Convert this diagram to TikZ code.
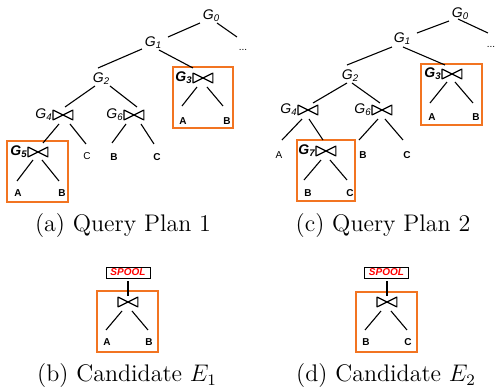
\documentclass[tikz,border=0pt]{standalone}
\usepackage{fontspec}
\newfontfamily\arialf{Liberation Sans}
\usetikzlibrary{calc}
\definecolor{oboxc}{RGB}{242,116,33}
\newcommand\gl[1]{G\kern0.1pt\raisebox{-1.1pt}{\fontsize{4.8}{5}\selectfont #1}}
\newcommand\btdraw[1]{\draw[btline] (#1.north west) -- (#1.south west) -- (#1.north east) -- (#1.south east) -- cycle;}
\begin{document}
\begin{tikzpicture}[x=0.5pt,y=-0.5pt,
  lbl/.style={inner sep=0pt, font=\arialf\fontsize{7}{8}\selectfont\itshape},
  lblb/.style={inner sep=0pt, font=\arialf\fontsize{7}{8}\selectfont\bfseries\itshape},
  leaf/.style={inner sep=0pt, font=\arialf\fontsize{5}{6}\selectfont\bfseries},
  leafl/.style={inner sep=0pt, font=\arialf\fontsize{5}{6}\selectfont},
  bt/.style={inner sep=0pt, minimum width=9.5pt, minimum height=4.5pt},
  btline/.style={line width=0.6pt, line join=round},
  conn/.style={line width=0.55pt},
  obx/.style={draw=oboxc, line width=1pt, inner sep=0pt},
  spoolbox/.style={draw, line width=0.4pt, fill=white, minimum width=22pt, minimum height=5.5pt, inner sep=0pt, font=\arialf\fontsize{5}{6}\selectfont\bfseries\itshape, text=red},
  captxt/.style={inner sep=0pt, anchor=base, font=\fontsize{12}{14}\selectfont}
]
\useasboundingbox (0,0) rectangle (495,391);

% ---------------- Tree 1 ----------------
\node[obx, minimum width=30pt, minimum height=30.5pt] (box3a) at (203,97.5) {};
\node[obx, minimum width=30.5pt, minimum height=30.5pt] (box5a) at (37.5,171.5) {};

\node[lbl] (g0a) at (211,16) {\gl{0}};
\node[leafl] (dotsa) at (243,50) {...};
\node[lbl] (g1a) at (153,43) {\gl{1}};
\node[lbl] (g2a) at (101,79) {\gl{2}};
\node[bt] (b3a) at (203,78) {}; \btdraw{b3a}
\node[lblb, anchor=east] (g3a) at ($(b3a.west)+(-1,0)$) {\gl{3}};
\node[leaf] (l3aA) at (183,121) {A};
\node[leaf] (l3aB) at (227,121) {B};
\node[bt] (b4a) at (63,115) {}; \btdraw{b4a}
\node[lbl, anchor=east] (g4a) at ($(b4a.west)+(-1,0)$) {\gl{4}};
\node[bt] (b6a) at (134,115) {}; \btdraw{b6a}
\node[lbl, anchor=east] (g6a) at ($(b6a.west)+(-1,0)$) {\gl{6}};
\node[bt] (b5a) at (38,152) {}; \btdraw{b5a}
\node[lblb, anchor=east] (g5a) at ($(b5a.west)+(-1,0)$) {\gl{5}};
\node[leaf] (l5aA) at (18,193) {A};
\node[leaf] (l5aB) at (62,193) {B};
\node[leafl] (l4aC) at (87,156) {C};
\node[leaf] (l6aB) at (114,157) {B};
\node[leaf] (l6aC) at (157,157) {C};

\draw[conn] ($(g0a)+(-11,7)$) -- ($(g1a)+(15,-6)$);
\draw[conn] ($(g0a)+(6,7)$) -- ($(dotsa)+(-6,-13)$);
\draw[conn] ($(g1a)+(-11,6)$) -- ($(g2a)+(-3,-11)$);
\draw[conn] ($(g1a)+(6,7)$) -- ($(b3a)+(-10,-10)$);
\draw[conn] ($(b3a)+(-6,9)$) -- ($(l3aA)+(-1,-15)$);
\draw[conn] ($(b3a)+(4,9)$) -- ($(l3aB)+(-4,-15)$);
\draw[conn] ($(g2a)+(-6,7)$) -- ($(b4a)+(2,-8)$);
\draw[conn] ($(g2a)+(9,7)$) -- ($(b6a)+(3,-8)$);
\draw[conn] ($(b4a)+(-4,9)$) -- ($(b5a)+(5,-9)$);
\draw[conn] ($(b4a)+(7,9)$) -- ($(l4aC)+(-1,-12)$);
\draw[conn] ($(b6a)+(-8,9)$) -- ($(l6aB)+(-2,-14)$);
\draw[conn] ($(b6a)+(7,9)$) -- ($(l6aC)+(-3,-13)$);
\draw[conn] ($(b5a)+(-5,8)$) -- ($(l5aA)+(-1,-12)$);
\draw[conn] ($(b5a)+(4,8)$) -- ($(l5aB)+(-3,-12)$);

% ---------------- Tree 2 ----------------
\node[obx, minimum width=30.5pt, minimum height=30.5pt] (box3b) at (451.5,94.5) {};
\node[obx, minimum width=29pt, minimum height=30.5pt] (box7b) at (326,170.5) {};

\node[lbl] (g0b) at (460,14) {\gl{0}};
\node[leafl] (dotsb) at (491,47) {...};
\node[lbl] (g1b) at (402,39) {\gl{1}};
\node[lbl] (g2b) at (350,76) {\gl{2}};
\node[bt] (b3b) at (452,74) {}; \btdraw{b3b}
\node[lblb, anchor=east] (g3b) at ($(b3b.west)+(-1,0)$) {\gl{3}};
\node[leaf] (l3bA) at (432,117) {A};
\node[leaf] (l3bB) at (476,117) {B};
\node[bt] (b4b) at (308,110) {}; \btdraw{b4b}
\node[lbl, anchor=east] (g4b) at ($(b4b.west)+(-1,0)$) {\gl{4}};
\node[bt] (b6b) at (382,110) {}; \btdraw{b6b}
\node[lbl, anchor=east] (g6b) at ($(b6b.west)+(-1,0)$) {\gl{6}};
\node[leafl] (l4bA) at (279,155) {A};
\node[bt] (b7b) at (326,151) {}; \btdraw{b7b}
\node[lblb, anchor=east] (g7b) at ($(b7b.west)+(-1,0)$) {\gl{7}};
\node[leaf] (l7bB) at (308,193) {B};
\node[leaf] (l7bC) at (350,193) {C};
\node[leaf] (l6bB) at (363,155) {B};
\node[leaf] (l6bC) at (407,155) {C};

\draw[conn] ($(g0b)+(-11,7)$) -- ($(g1b)+(15,-6)$);
\draw[conn] ($(g0b)+(-2,5)$) -- ($(dotsb)+(-3,-14)$);
\draw[conn] ($(g1b)+(-10,8)$) -- ($(g2b)+(-3,-11)$);
\draw[conn] ($(g1b)+(1,8)$) -- ($(b3b)+(-7,-9)$);
\draw[conn] ($(b3b)+(-5,8)$) -- ($(l3bA)+(-2,-14)$);
\draw[conn] ($(b3b)+(3,8)$) -- ($(l3bB)+(-3,-14)$);
\draw[conn] ($(g2b)+(-3,7)$) -- ($(b4b)+(5,-7)$);
\draw[conn] ($(g2b)+(2,7)$) -- ($(b6b)+(-2,-7)$);
\draw[conn] ($(b4b)+(-6,9)$) -- ($(l4bA)+(3,-15)$);
\draw[conn] ($(b4b)+(1,9)$) -- ($(b7b)+(-3,-11)$);
\draw[conn] ($(b6b)+(-4,9)$) -- ($(l6bB)+(-4,-15)$);
\draw[conn] ($(b6b)+(3,9)$) -- ($(l6bC)+(-4,-15)$);
\draw[conn] ($(b7b)+(-5,9)$) -- ($(l7bB)+(-4,-13)$);
\draw[conn] ($(b7b)+(4,9)$) -- ($(l7bC)+(-3,-13)$);

% ---------------- Candidate E1 ----------------
\node[obx, minimum width=30.5pt, minimum height=30.5pt] (boxe1) at (127.5,321.5) {};
\node[spoolbox] (sp1) at (128,272.5) {SPOOL};
\node[bt] (bte1) at (128,302) {}; \btdraw{bte1}
\node[leaf] (le1A) at (107,342) {A};
\node[leaf] (le1B) at (149,342) {B};
\draw[conn] ($(sp1.south)+(0,3)$) -- ($(bte1)+(0,-6)$);
\draw[conn] ($(bte1)+(-6,9)$) -- ($(le1A)+(-1,-12)$);
\draw[conn] ($(bte1)+(4,9)$) -- ($(le1B)+(-1,-12)$);

% ---------------- Candidate E2 ----------------
\node[obx, minimum width=30.5pt, minimum height=30pt] (boxe2) at (386.5,322) {};
\node[spoolbox] (sp2) at (386.5,272.5) {SPOOL};
\node[bt] (bte2) at (387,302) {}; \btdraw{bte2}
\node[leaf] (le2B) at (366,342) {B};
\node[leaf] (le2C) at (408,342) {C};
\draw[conn] ($(sp2.south)+(0.5,3)$) -- ($(bte2)+(0,-6)$);
\draw[conn] ($(bte2)+(-6,9)$) -- ($(le2B)+(-1,-12)$);
\draw[conn] ($(bte2)+(4,9)$) -- ($(le2C)+(-1,-12)$);

% ---------------- Captions ----------------
\node[captxt] (capa) at (123,232) {(a) Query Plan 1};
\node[captxt] (capc) at (383,232) {(c) Query Plan 2};
\node[captxt] (capb) at (127,382) {(b) Candidate $E_1$};
\node[captxt] (capd) at (386,382) {(d) Candidate $E_2$};
\end{tikzpicture}
\end{document}
